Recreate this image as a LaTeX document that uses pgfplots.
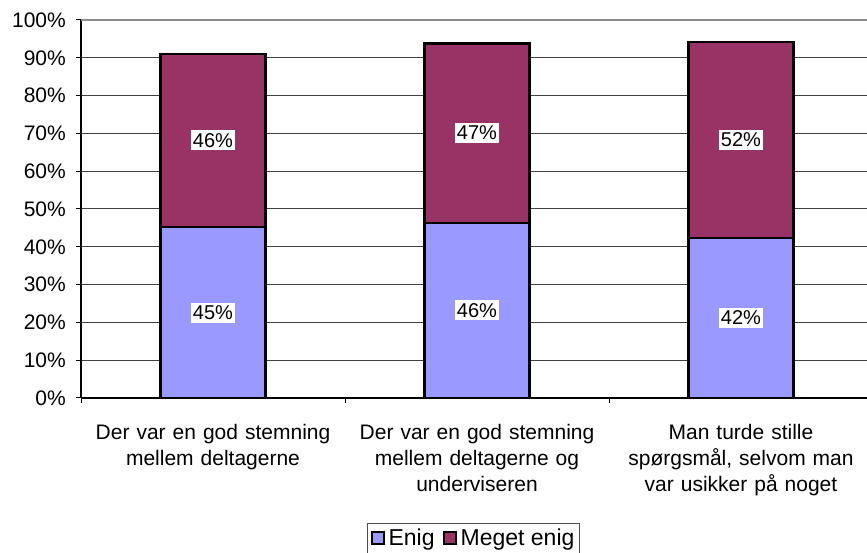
\documentclass[border=0pt]{standalone}
\usepackage{fontspec}
\setmainfont{Liberation Sans}
\usepackage{pgfplots}
\pgfplotsset{compat=1.18}
\definecolor{enig}{HTML}{9999FF}
\definecolor{meget}{HTML}{993366}
\begin{document}
\fontsize{21}{26}\selectfont
\begin{tikzpicture}[x=1pt,y=1pt]
\path[use as bounding box] (0,0) rectangle (867,553);
\begin{axis}[
  at={(81pt,155pt)}, anchor=south west,
  scale only axis, width=792pt, height=378pt,
  ybar stacked, bar width=105pt,
  xmin=-0.5, xmax=2.5, ymin=0, ymax=100,
  axis x line*=bottom, axis y line*=left,
  axis line style={-, black, line width=1.5pt},
  /pgf/number format/assume math mode=true,
  ytick={0,10,...,90},
  extra y ticks={100},
  extra y tick style={grid style={black!45, line width=2pt}},
  yticklabel={\pgfmathprintnumber{\tick}\%},
  yticklabel style={xshift=-3pt},
  ymajorgrids,
  grid style={black!75, line width=1pt},
  tick align=outside,
  major tick length=5pt,
  tick style={black, line width=1pt},
  xtick={-0.5,0.5,1.5,2.5},
  xticklabels={},
  extra x ticks={0,1,2},
  extra x tick labels={{Der var en god stemning\\mellem deltagerne},{Der var en god stemning\\mellem deltagerne og\\underviseren},{Man turde stille\\spørgsmål, selvom man\\var usikker på noget}},
  extra x tick style={major tick length=0pt, xticklabel style={align=center, text width=260pt, anchor=north, yshift=-19pt}},
  point meta=explicit,
  nodes near coords={\pgfmathprintnumber[fixed,precision=0]{\pgfplotspointmeta}\%},
  every node near coord/.append style={fill=white, inner xsep=1.5pt, inner ysep=3pt, anchor=center, text=black,
    font=\fontsize{20}{24}\selectfont},
  legend style={at={(0.4956,-0.3307)}, anchor=north, draw=black!70, line width=1pt,
    font=\fontsize{23}{27}\selectfont,
    legend columns=2, inner xsep=3pt, inner ysep=3pt,
    /tikz/every odd column/.append style={column sep=2pt},
    /tikz/every even column/.append style={column sep=6pt}},
  legend image code/.code={\draw[#1, draw=black, line width=2pt] (0pt,-6pt) rectangle (12pt,6pt);},
]
\addplot[fill=enig, draw=black, line width=2.2pt] coordinates {(0,45.2) [45.2] (1,46.4) [46.4] (2,42.3) [42.3]};
\addplot[fill=meget, draw=black, line width=2.2pt] coordinates {(0,45.9) [45.9] (1,47.4) [47.4] (2,51.9) [51.9]};
\legend{Enig, Meget enig}
\end{axis}
\end{tikzpicture}
\end{document}
